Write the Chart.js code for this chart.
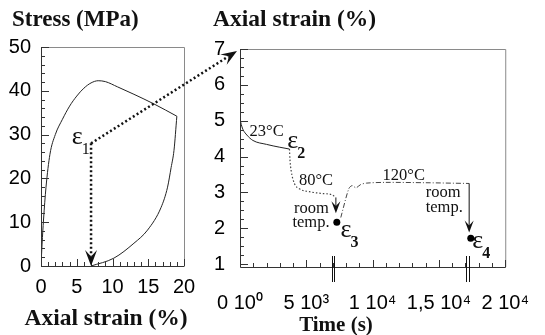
<!DOCTYPE html>
<html>
<head>
<meta charset="utf-8">
<script src="https://cdn.jsdelivr.net/npm/chart.js@4.4.1/dist/chart.umd.min.js"></script>
<style>
  html, body { margin: 0; padding: 0; background: #fff; }
  #wrap { position: relative; width: 545px; height: 335px; }
  #wrap canvas { position: absolute; left: 0; top: 0; }
</style>
</head>
<body>
<div id="wrap">
  <canvas id="left" width="545" height="335"></canvas>
  <canvas id="right" width="545" height="335"></canvas>
</div>
<script>
// ---- left panel: stress vs axial strain ----
const loadStrain = [0, 0.15, 0.35, 0.7, 1.25, 2, 3, 4, 5, 6, 7, 8, 9, 10.7, 13, 15.8, 19];
const loadStress = [0, 5, 10.5, 18, 25.5, 30, 33.5, 36.5, 38.8, 40.6, 41.8, 42.3, 42.1, 40.9, 39.2, 37, 34.2];
const unloadStrain = [7, 10.2, 13, 14.9, 16.8, 17.7, 18.2, 18.6, 19];
const unloadStress = [0, 1.8, 5.2, 8.2, 13.4, 18, 22.5, 26.4, 34.2];
const stressTicks = [0, 10, 20, 30, 40, 50];
const strainTicks = [0, 5, 10, 15, 20];
const eps1 = [7, 28];            // strain, stress where eps1 is read

// ---- right panel: axial strain vs time ----
const time23 = [0, 60, 130, 230, 520, 970, 2000, 3000, 3730];
const strain23 = [5.1, 4.95, 4.85, 4.75, 4.6, 4.45, 4.34, 4.26, 4.21];
const time80 = [3730, 3770, 3860, 4100, 4480, 5220, 6200, 6900, 7230];
const strain80 = [4.21, 3.9, 3.6, 3.25, 3.1, 3.02, 2.97, 2.94, 2.86];
const time120 = [7600, 8200, 8450, 8750, 9100, 9550, 11000, 14000, 17280];
const strain120 = [2.3, 3.1, 3.19, 3.13, 3.22, 3.26, 3.28, 3.27, 3.25];
const dotTimes = [7300, 17400];
const dotStrains = [2.17, 1.72];
const arrowTimes = [7230, 17280];
const arrowFrom = [2.86, 3.25];
const arrowTo = [2.42, 1.88];
const breakTimes = [6900, 7070, 17030, 17230];
const timeTicks = [0, 5000, 10000, 15000, 20000];
const timeTickLabels = ['0 10⁰', '5 10³', '1 10⁴', '1,5 10⁴', '2 10⁴'];
const strainTicksR = [1, 2, 3, 4, 5, 6, 7];

const serif = '"Liberation Serif", "Times New Roman", serif';
const sans = '"Liberation Sans", Arial, sans-serif';

function pts(xs, ys) { return xs.map((x, i) => ({x: x, y: ys[i]})); }

function arrowHead(ctx, x, y, ang, len, hw) {
  ctx.save();
  ctx.translate(x, y);
  ctx.rotate(ang);
  ctx.beginPath();
  ctx.moveTo(0, 0);
  ctx.lineTo(-len, -hw);
  ctx.lineTo(-len * 0.6, 0);
  ctx.lineTo(-len, hw);
  ctx.closePath();
  ctx.fill();
  ctx.restore();
}

function drawEps(ctx, x, y, sub, boldSub) {
  ctx.textAlign = 'left';
  ctx.textBaseline = 'alphabetic';
  ctx.font = '26px ' + serif;
  ctx.fillText('ε', x, y);
  const w = ctx.measureText('ε').width;
  ctx.font = (boldSub ? 'bold ' : '') + '16px ' + serif;
  ctx.fillText(sub, x + w - 1, y + 10);
}

function drawFrame(chart, xStep, xMajor, yStep, yMajor) {
  const ctx = chart.ctx, a = chart.chartArea, x = chart.scales.x, y = chart.scales.y;
  ctx.save();
  ctx.strokeStyle = '#8a8a8a';
  ctx.lineWidth = 1;
  ctx.beginPath();
  ctx.moveTo(a.left, a.top + 0.5); ctx.lineTo(a.right + 0.5, a.top + 0.5); ctx.lineTo(a.right + 0.5, a.bottom);
  ctx.stroke();
  ctx.strokeStyle = '#333';
  ctx.beginPath();
  ctx.moveTo(a.left + 0.5, a.top); ctx.lineTo(a.left + 0.5, a.bottom + 0.5); ctx.lineTo(a.right + 0.5, a.bottom + 0.5);
  for (let v = Math.ceil(x.min / xStep) * xStep; v <= x.max + 1e-6; v += xStep) {
    const px = Math.round(x.getPixelForValue(v)) + 0.5;
    const major = Math.abs(v / xMajor - Math.round(v / xMajor)) < 1e-6;
    ctx.moveTo(px, a.bottom); ctx.lineTo(px, a.bottom - (major ? 7 : 4));
  }
  for (let v = Math.ceil(y.min / yStep - 1e-6) * yStep; v <= y.max + 1e-6; v += yStep) {
    const py = Math.round(y.getPixelForValue(v)) + 0.5;
    const major = Math.abs(v / yMajor - Math.round(v / yMajor)) < 1e-6;
    ctx.moveTo(a.left, py); ctx.lineTo(a.left + (major ? 8 : 4), py);
  }
  ctx.stroke();
  ctx.restore();
}

const tickFont = {family: sans, size: 20};

const leftDecor = {
  id: 'leftDecor',
  afterDraw(chart) {
    const ctx = chart.ctx, x = chart.scales.x, y = chart.scales.y;
    drawFrame(chart, 1, 5, 2, 10);
    ctx.save();
    ctx.fillStyle = '#111';
    // eps1 label
    drawEps(ctx, x.getPixelForValue(4.3), y.getPixelForValue(27.8), '1', false);
    // dotted arrow down to residual strain
    const px = x.getPixelForValue(eps1[0]);
    const top = y.getPixelForValue(eps1[1]);
    const bot = y.getPixelForValue(0);
    ctx.strokeStyle = '#111';
    ctx.lineWidth = 2.5;
    ctx.setLineDash([2, 2.5]);
    ctx.beginPath();
    ctx.moveTo(px, top); ctx.lineTo(px, bot - 10);
    ctx.stroke();
    ctx.setLineDash([]);
    arrowHead(ctx, px, bot, Math.PI / 2, 16, 6);
    // titles
    ctx.textAlign = 'left';
    ctx.textBaseline = 'alphabetic';
    ctx.font = 'bold 23px ' + serif;
    ctx.fillText('Stress (MPa)', 12, 26);
    ctx.textAlign = 'center';
    ctx.font = 'bold 23.5px ' + serif;
    ctx.fillText('Axial strain (%)', 106, 325);
    ctx.restore();
  }
};

const leftChart = new Chart(document.getElementById('left'), {
  type: 'scatter',
  data: {
    datasets: [
      {data: pts(loadStrain, loadStress), showLine: true, borderColor: '#222', borderWidth: 1, pointRadius: 0, cubicInterpolationMode: 'monotone'},
      {data: pts(unloadStrain, unloadStress), showLine: true, borderColor: '#222', borderWidth: 1, pointRadius: 0, cubicInterpolationMode: 'monotone'}
    ]
  },
  options: {
    responsive: false,
    animation: false,
    layout: {autoPadding: false, padding: {left: 0, top: 47, right: 361, bottom: 0}},
    plugins: {legend: {display: false}, tooltip: {enabled: false}},
    scales: {
      x: {
        type: 'linear', min: 0, max: 20,
        afterFit: s => { s.height = 69; },
        afterBuildTicks: s => { s.ticks = strainTicks.map(v => ({value: v})); },
        grid: {display: false}, border: {display: false},
        ticks: {color: '#000', font: tickFont, padding: 1, maxRotation: 0, autoSkip: false}
      },
      y: {
        type: 'linear', min: 0, max: 50,
        afterFit: s => { s.width = 41; },
        afterBuildTicks: s => { s.ticks = stressTicks.map(v => ({value: v})); },
        grid: {display: false}, border: {display: false},
        ticks: {color: '#000', font: tickFont, padding: 2, autoSkip: false}
      }
    }
  },
  plugins: [leftDecor]
});

const rightDecor = {
  id: 'rightDecor',
  afterDraw(chart) {
    const ctx = chart.ctx, x = chart.scales.x, y = chart.scales.y, a = chart.chartArea;
    drawFrame(chart, 1000, 5000, 0.25, 1);
    ctx.save();
    ctx.fillStyle = '#111';
    ctx.strokeStyle = '#111';
    // axis break marks
    ctx.lineWidth = 1;
    ctx.beginPath();
    breakTimes.forEach(t => {
      const px = Math.round(x.getPixelForValue(t)) + 0.5;
      ctx.moveTo(px, a.bottom - 11); ctx.lineTo(px, a.bottom + 15);
    });
    ctx.stroke();
    // room temperature arrows
    arrowTimes.forEach((t, i) => {
      const px = x.getPixelForValue(t);
      const p0 = y.getPixelForValue(arrowFrom[i]);
      const p1 = y.getPixelForValue(arrowTo[i]);
      ctx.beginPath();
      ctx.moveTo(px, p0); ctx.lineTo(px, p1 - 6);
      ctx.stroke();
      arrowHead(ctx, px, p1, Math.PI / 2, 12, 4.5);
    });
    // temperature and state labels
    ctx.textAlign = 'left';
    ctx.textBaseline = 'alphabetic';
    ctx.font = '16.5px ' + serif;
    ctx.fillText('23°C', x.getPixelForValue(720), y.getPixelForValue(4.58));
    ctx.fillText('80°C', x.getPixelForValue(4450), y.getPixelForValue(3.2));
    ctx.fillText('120°C', x.getPixelForValue(10750), y.getPixelForValue(3.34));
    ctx.fillText('room', x.getPixelForValue(14000), y.getPixelForValue(2.86));
    ctx.fillText('temp.', x.getPixelForValue(14000), y.getPixelForValue(2.45));
    ctx.textAlign = 'right';
    ctx.fillText('room', x.getPixelForValue(6700), y.getPixelForValue(2.43));
    ctx.fillText('temp.', x.getPixelForValue(6750), y.getPixelForValue(2.04));
    drawEps(ctx, x.getPixelForValue(3560), y.getPixelForValue(4.25), '2', true);
    drawEps(ctx, x.getPixelForValue(7580), y.getPixelForValue(1.76), '3', true);
    drawEps(ctx, x.getPixelForValue(17520), y.getPixelForValue(1.45), '4', true);
    // connecting dotted arrow from eps1 to the strain axis
    const lx = leftChart.scales.x, ly = leftChart.scales.y;
    const sx = lx.getPixelForValue(eps1[0]), sy = ly.getPixelForValue(eps1[1]);
    const ex = x.getPixelForValue(0) - 3, ey = y.getPixelForValue(7) + 2;
    const ang = Math.atan2(ey - sy, ex - sx);
    ctx.lineWidth = 2.5;
    ctx.setLineDash([2, 2.5]);
    ctx.beginPath();
    ctx.moveTo(sx, sy);
    ctx.lineTo(ex - 10 * Math.cos(ang), ey - 10 * Math.sin(ang));
    ctx.stroke();
    ctx.setLineDash([]);
    arrowHead(ctx, ex, ey, ang, 16, 6);
    // titles
    ctx.textAlign = 'left';
    ctx.font = 'bold 23.5px ' + serif;
    ctx.fillText('Axial strain (%)', 213, 26);
    ctx.textAlign = 'center';
    ctx.font = 'bold 21px ' + serif;
    ctx.fillText('Time (s)', 336, 331);
    ctx.restore();
  }
};

const rightChart = new Chart(document.getElementById('right'), {
  type: 'scatter',
  data: {
    datasets: [
      {data: pts(time23, strain23), showLine: true, borderColor: '#222', borderWidth: 1, pointRadius: 0, cubicInterpolationMode: 'monotone'},
      {data: pts(time80, strain80), showLine: true, borderColor: '#444', borderWidth: 1.2, borderDash: [1.5, 2], pointRadius: 0, cubicInterpolationMode: 'monotone'},
      {data: pts(time120, strain120), showLine: true, borderColor: '#444', borderWidth: 1, borderDash: [5, 2, 1, 2], pointRadius: 0, tension: 0.3},
      {data: pts(dotTimes, dotStrains), showLine: false, pointRadius: 3.5, pointBackgroundColor: '#000', pointBorderWidth: 0}
    ]
  },
  options: {
    responsive: false,
    animation: false,
    layout: {autoPadding: false, padding: {left: 200, top: 49, right: 37, bottom: 0}},
    plugins: {legend: {display: false}, tooltip: {enabled: false}},
    scales: {
      x: {
        type: 'linear', min: 0, max: 20000,
        afterFit: s => { s.height = 68; },
        afterBuildTicks: s => { s.ticks = timeTicks.map(v => ({value: v})); },
        grid: {display: false}, border: {display: false},
        ticks: {color: '#000', font: tickFont, padding: 16, maxRotation: 0, autoSkip: false,
                callback: (v, i) => timeTickLabels[i]}
      },
      y: {
        type: 'linear', min: 0.92, max: 7,
        afterFit: s => { s.width = 40; },
        afterBuildTicks: s => { s.ticks = strainTicksR.map(v => ({value: v})); },
        grid: {display: false}, border: {display: false},
        ticks: {color: '#000', font: tickFont, padding: 7, autoSkip: false}
      }
    }
  },
  plugins: [rightDecor]
});
</script>
</body>
</html>
